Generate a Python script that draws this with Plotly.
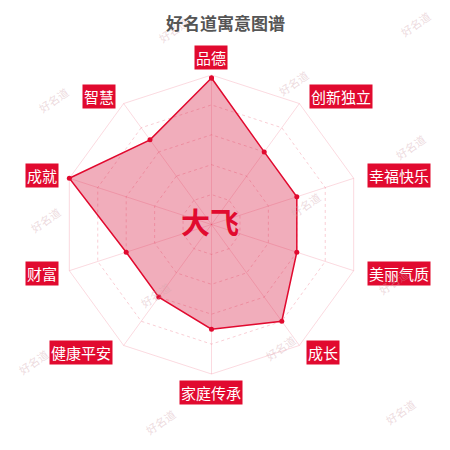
import plotly.graph_objects as go

categories = ["品德", "创新独立", "幸福快乐", "美丽气质", "成长",
              "家庭传承", "健康平安", "财富", "成就", "智慧"]
values = [98, 60, 60, 60, 80, 70, 60, 60, 100, 70]
name = "大飞"
title = "好名道寓意图谱"
watermark = "好名道"

RED = "#e10a2f"
W = H = 450
OFF = 8  # page body margin shifts the figure by 8px
# polar area in pixels (as seen on the page)
cx, cy, R = 211.5 - OFF, 224.5 - OFF, 149.5


def px2paper(px, py):
    return (px - OFF) / W, 1 - (py - OFF) / H


fig = go.Figure()

fig.add_trace(go.Scatterpolar(
    r=values + values[:1],
    theta=categories + categories[:1],
    mode="lines+markers",
    fill="toself",
    fillcolor="rgba(215,20,60,0.35)",
    line=dict(color=RED, width=1.5),
    marker=dict(color=RED, size=5),
    hoverinfo="skip",
    showlegend=False,
))

# category labels as red boxes (centre positions in page pixels)
label_pos = {
    "品德": (211, 57), "创新独立": (341, 96), "幸福快乐": (399, 176),
    "美丽气质": (399, 273), "成长": (323, 352), "家庭传承": (211, 392),
    "健康平安": (81, 352), "财富": (42, 273), "成就": (42, 176),
    "智慧": (98.5, 96),
}
annotations = []
for cat in categories:
    x, y = px2paper(*label_pos[cat])
    annotations.append(dict(
        x=x, y=y, xref="paper", yref="paper",
        xanchor="center", yanchor="middle",
        text=cat, showarrow=False,
        font=dict(size=15, color="white", family="Noto Sans CJK SC"),
        bgcolor=RED, borderpad=1,
    ))

# faint watermarks
wm_pos = [(173, 30), (415, 24), (53, 100), (293, 83), (410, 147),
          (45, 220), (393, 282), (155, 295), (33, 362), (280, 348),
          (160, 422), (400, 412), (305, 205)]
for p in wm_pos:
    x, y = px2paper(*p)
    annotations.append(dict(
        x=x, y=y, xref="paper", yref="paper",
        xanchor="center", yanchor="middle",
        text=watermark, showarrow=False, textangle=-35,
        font=dict(size=11, color="rgba(210,165,172,0.4)",
                  family="Noto Sans CJK SC"),
    ))

x, _ = px2paper(225, 0)
annotations.append(dict(
    x=x, y=1, xref="paper", yref="paper",
    xanchor="center", yanchor="top",
    text="<b>" + title + "</b>", showarrow=False,
    font=dict(size=17, color="#555555", family="Noto Sans CJK SC"),
))
x, y = px2paper(210, 221)
annotations.append(dict(
    x=x, y=y, xref="paper", yref="paper",
    xanchor="center", yanchor="middle",
    text="<b>" + name + "</b>", showarrow=False,
    font=dict(size=29, color=RED, family="Noto Sans CJK SC"),
))

fig.update_layout(
    width=W, height=H,
    margin=dict(l=0, r=0, t=0, b=0),
    paper_bgcolor="white",
    polar=dict(
        domain=dict(x=[(cx - R) / W, (cx + R) / W],
                    y=[1 - (cy + R) / H, 1 - (cy - R) / H]),
        bgcolor="white",
        gridshape="linear",
        radialaxis=dict(range=[0, 100], dtick=20, showticklabels=False,
                        ticks="", showline=False,
                        gridcolor="rgba(225,10,47,0.2)", griddash="dot"),
        angularaxis=dict(rotation=90, direction="clockwise",
                         showticklabels=False, ticks="",
                         gridcolor="rgba(225,10,47,0.15)",
                         linecolor="rgba(225,10,47,0.15)"),
    ),
    annotations=annotations,
)

fig.write_html("out.html")
